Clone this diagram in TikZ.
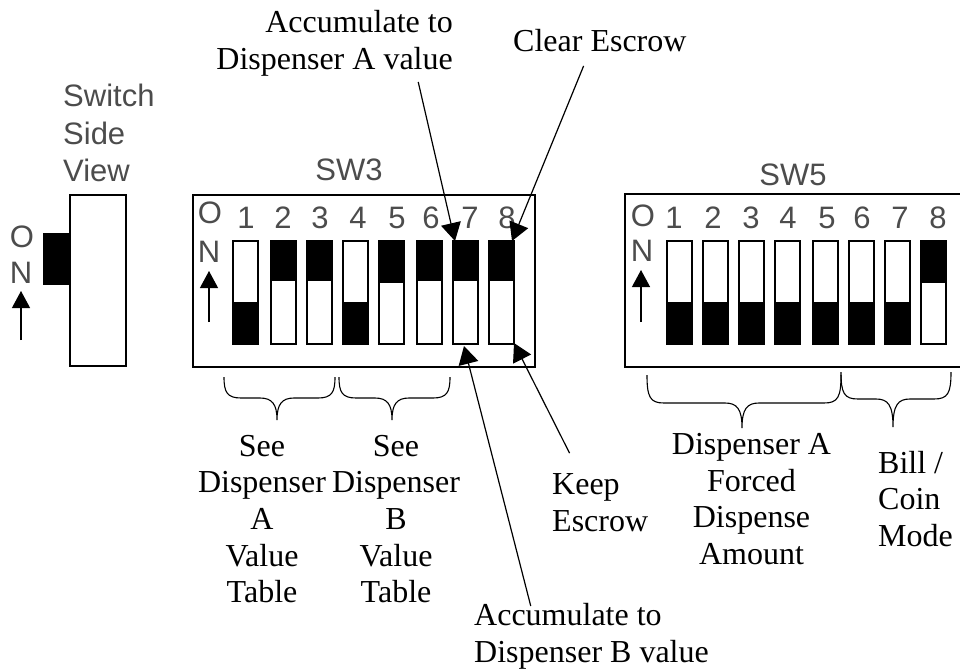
\documentclass[tikz,border=0pt]{standalone}
\usepackage{fontspec}
\usepackage{tikz}
\setmainfont{Liberation Serif}
\newfontfamily\swfont{Liberation Sans}
\usetikzlibrary{arrows.meta}

\begin{document}
\begin{tikzpicture}[x=1pt,y=-1pt,
            swlabel/.style={font=\swfont\fontsize{31}{37.5}\selectfont,black!70,inner sep=0pt,align=left},
            swnum/.style={font=\swfont\fontsize{31}{37}\selectfont,black!70,inner sep=0pt},
            caption/.style={font=\fontsize{32}{36.7}\selectfont,inner sep=0pt,align=center},
            frame/.style={draw,line width=1.5pt},
            lever/.style={draw,line width=1.5pt,fill=white},
            knob/.style={draw,line width=1.5pt,fill=black},
            pointer/.style={-{Triangle[length=18pt,width=20pt]},line width=1.2pt,shorten <=1pt},
            uparrow/.style={-{Triangle[length=17pt,width=18pt]},line width=1.2pt},
            curly/.style={line width=1.1pt}]
            \useasboundingbox (0,0) rectangle (960,670);

            % side view
            \node[swlabel,anchor=north west] (sideview) at (63,84) {Switch\\Side\\View};
            \draw[lever] (70,195) rectangle (126,366);
            \draw[knob] (44,234) rectangle (70,284);
            \node[swnum] (sideo) at (22,237) {O};
            \node[swnum] (siden) at (21,273) {N};
            \coordinate (sidefoot) at (21,340);
            \coordinate (sidetip) at (21,291);
            \draw[uparrow] (sidefoot) -- (sidetip);

            % SW3
            \node[swnum] (swthree) at (349,170) {SW3};
            \draw[frame] (193,195) rectangle (535,367);
            \node[swnum] (threeo) at (210,213) {O};
            \node[swnum] (threen) at (209,252) {N};
            \coordinate (threefoot) at (209,322);
            \coordinate (threetip) at (209,271);
            \draw[uparrow] (threefoot) -- (threetip);
            \foreach \n/\xl/\xnum/\ybot in {1/233/246/303,4/343/358/303} {
                \draw[lever] (\xl,241) rectangle ++(25,103);
                \draw[knob] (\xl,\ybot) rectangle ++(25,41);
                \node[swnum] (three\n) at (\xnum,218) {\n};
            }
            \foreach \n/\xl/\xnum/\ytop in {2/271/283/280,3/307/320/280,5/379/397/282,6/417/431/280,7/453/470/280,8/489/507/280} {
                \draw[lever] (\xl,241) rectangle ++(25,103);
                \draw[knob] (\xl,241) rectangle (\xl+25,\ytop);
                \node[swnum] (three\n) at (\xnum,218) {\n};
            }
            \coordinate (seventop) at (455,241);
            \coordinate (eighttop) at (512,241);
            \coordinate (sevenbot) at (464,346);
            \coordinate (eightbot) at (514,343);

            % SW5, runs off the right side
            \node[swnum] (swfive) at (793,175) {SW5};
            \draw[frame] (960,194) -- (625,194) -- (625,367) -- (960,367);
            \node[swnum] (fiveo) at (643,216) {O};
            \node[swnum] (fiven) at (642,251) {N};
            \coordinate (fivefoot) at (641,322);
            \coordinate (fivetip) at (641,270);
            \draw[uparrow] (fivefoot) -- (fivetip);
            \foreach \n/\xl/\xnum in {1/667/674,2/703/713,3/739/751,4/775/788,5/813/827,6/849/862,7/885/900} {
                \draw[lever] (\xl,241) rectangle ++(25,103);
                \draw[knob] (\xl,303) rectangle ++(25,41);
                \node[swnum] (five\n) at (\xnum,218) {\n};
            }
            \draw[lever] (921,241) rectangle ++(25,103);
            \draw[knob] (921,241) rectangle (946,282);
            \node[swnum] (five8) at (938,218) {8};

            % braces: left, middle, right, top, bottom, point
            \foreach \xl/\xm/\xr/\yt/\yb/\yk in {224/277/335/377/398/420,339/392/450/377/398/420,647/742/841/375/403/428,841/893/951/372/399/427} {
                \draw[curly] (\xl,\yt) .. controls (\xl,\yb-6) and (\xl+3,\yb) .. (\xl+17,\yb)
                    -- (\xm-17,\yb) .. controls (\xm-5,\yb) and (\xm,\yb+6) .. (\xm,\yk)
                    .. controls (\xm,\yb+6) and (\xm+5,\yb) .. (\xm+17,\yb)
                    -- (\xr-17,\yb) .. controls (\xr-3,\yb) and (\xr,\yb-6) .. (\xr,\yt);
            }

            % captions
            \node[caption,align=right,anchor=east] (accua) at (453,43.5) {Accumulate to\\Dispenser A value};
            \node[caption,anchor=west] (clear) at (513,41) {Clear Escrow};
            \node[caption] (seea) at (262,519) {See\\Dispenser\\A\\Value\\Table};
            \node[caption] (seeb) at (396,519) {See\\Dispenser\\B\\Value\\Table};
            \node[caption,align=left,anchor=west] (keep) at (552,503) {Keep\\Escrow};
            \node[caption,align=left,anchor=west] (accub) at (474,636.5) {Accumulate to\\Dispenser B value};
            \node[caption] (forced) at (751.5,499) {Dispenser A\\Forced\\Dispense\\Amount};
            \node[caption,align=left,anchor=west] (bill) at (878,499) {Bill /\\Coin\\Mode};

            \coordinate (accuafoot) at (418,81);
            \coordinate (clearfoot) at (584,65);
            \coordinate (keepfoot) at (570,454);
            \coordinate (accubfoot) at (531,607);
            \draw[pointer] (accuafoot) -- (seventop);
            \draw[pointer] (clearfoot) -- (eighttop);
            \draw[pointer] (keepfoot) -- (eightbot);
            \draw[pointer] (accubfoot) -- (sevenbot);
        \end{tikzpicture}
\end{document}
